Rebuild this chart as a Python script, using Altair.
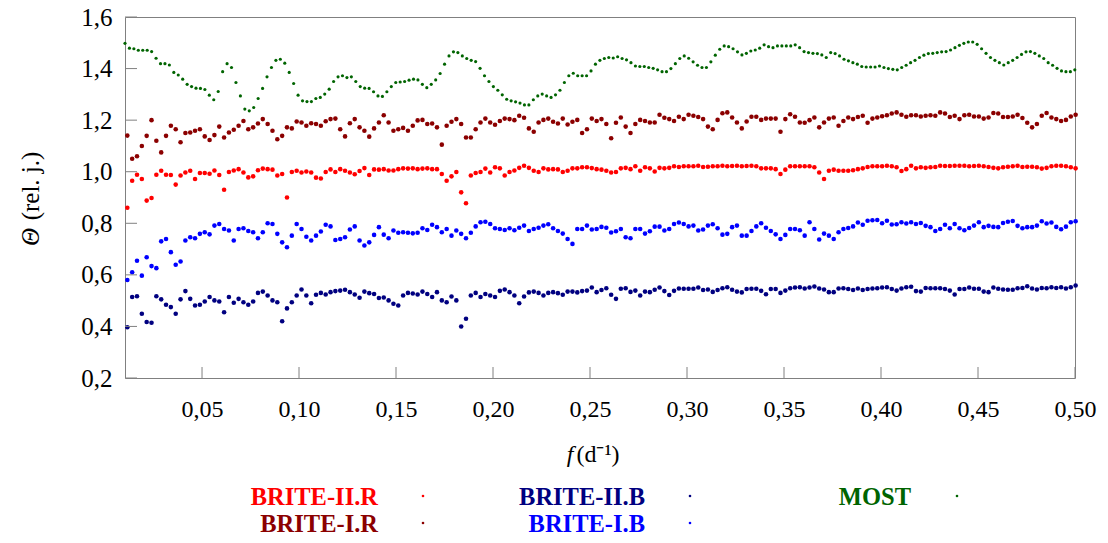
import altair as alt
import numpy as np
import pandas as pd

# ---------------- data ----------------
# BRITE series: sampled on a regular frequency grid f = BRITE_F0 + BRITE_DF*i
BRITE_F0 = 0.0115
BRITE_DF = 0.002494

brite_i_r = [
    1.14, 1.05, 1.06, 1.10, 1.139, 1.20, 1.12, 1.075, 1.139, 1.178, 1.165, 1.114, 1.15, 1.152, 1.159, 1.165,
    1.137, 1.123, 1.142, 1.175, 1.133, 1.152, 1.163, 1.178, 1.197, 1.165, 1.172, 1.187, 1.204, 1.185, 1.159, 1.126,
    1.139, 1.172, 1.168, 1.195, 1.191, 1.178, 1.188, 1.185, 1.178, 1.196, 1.204, 1.206, 1.165, 1.137, 1.188, 1.204,
    1.172, 1.159, 1.136, 1.168, 1.191, 1.219, 1.191, 1.159, 1.165, 1.170, 1.159, 1.178, 1.199, 1.201, 1.185, 1.187, 1.172,
    1.105, 1.178, 1.194, 1.204, 1.185, 1.133, 1.133, 1.165, 1.191, 1.206, 1.191, 1.182, 1.197, 1.206, 1.204, 1.200,
    1.217, 1.209, 1.168, 1.155, 1.191, 1.201, 1.206, 1.194, 1.187, 1.206, 1.183, 1.194, 1.201, 1.150, 1.165, 1.206,
    1.197, 1.204, 1.185, 1.13, 1.19, 1.210, 1.175, 1.150, 1.185, 1.201, 1.197, 1.191, 1.191, 1.221, 1.209, 1.204, 1.197,
    1.213, 1.204, 1.221, 1.217, 1.212, 1.204, 1.175, 1.165, 1.201, 1.227, 1.230, 1.210, 1.191, 1.168, 1.195, 1.213, 1.213,
    1.201, 1.206, 1.206, 1.206, 1.155, 1.204, 1.223, 1.213, 1.191, 1.190, 1.200, 1.210, 1.172, 1.191, 1.206, 1.210, 1.178,
    1.197, 1.210, 1.204, 1.212, 1.217, 1.190, 1.206, 1.210, 1.215, 1.219, 1.226, 1.230, 1.221, 1.213, 1.219, 1.219,
    1.214, 1.217, 1.219, 1.217, 1.230, 1.226, 1.212, 1.217, 1.204, 1.219, 1.221, 1.214, 1.214, 1.206, 1.210, 1.228, 1.226,
    1.212, 1.212, 1.214, 1.221, 1.208, 1.190, 1.172, 1.185, 1.217, 1.228, 1.210, 1.204, 1.197, 1.201, 1.214, 1.221,
]

brite_ii_r = [
    0.86, 0.965, 0.988, 0.972, 0.888, 0.898, 0.988, 1.004, 0.988, 0.987, 0.950, 0.985, 0.997, 1.004, 0.972, 0.995,
    0.995, 0.992, 1.005, 0.987, 0.93, 0.999, 1.005, 1.010, 0.997, 0.978, 0.982, 1.006, 1.012, 1.010, 1.008, 0.985,
    0.991, 0.90, 0.999, 1.004, 0.997, 1.001, 0.997, 0.977, 0.974, 0.999, 1.009, 0.999, 1.010, 1.004, 0.997, 0.990,
    1.003, 1.014, 0.987, 1.009, 1.008, 1.010, 1.005, 1.005, 1.010, 1.013, 1.012, 1.013, 1.010, 1.012, 1.013, 1.010, 1.010,
    0.991, 0.965, 0.982, 0.999, 0.920, 0.878, 0.985, 0.995, 0.999, 1.012, 0.997, 1.017, 1.013, 0.985, 0.999, 1.005,
    1.015, 1.023, 1.015, 1.004, 0.999, 1.013, 1.009, 1.010, 1.009, 0.999, 1.004, 1.013, 1.013, 1.017, 1.017, 1.014,
    1.010, 1.008, 1.004, 0.997, 0.999, 1.013, 1.015, 1.010, 1.021, 1.004, 1.017, 1.013, 1.001, 1.015, 1.013, 1.015, 1.021,
    1.018, 1.021, 1.021, 1.021, 1.023, 1.018, 1.019, 1.021, 1.021, 1.023, 1.021, 1.022, 1.023, 1.021, 1.022, 1.023, 1.021,
    1.013, 1.013, 1.013, 1.010, 0.991, 1.008, 1.021, 1.021, 1.021, 1.021, 1.021, 1.017, 0.997, 0.972, 1.004, 1.008, 1.004,
    1.004, 1.004, 1.006, 1.010, 1.013, 1.018, 1.021, 1.021, 1.021, 1.023, 1.021, 1.017, 1.003, 1.010, 1.023, 1.013,
    1.017, 1.015, 1.017, 1.018, 1.023, 1.022, 1.022, 1.023, 1.023, 1.023, 1.021, 1.022, 1.023, 1.021, 1.018, 1.015, 1.013,
    1.017, 1.019, 1.021, 1.023, 1.018, 1.019, 1.019, 1.017, 1.012, 1.015, 1.021, 1.023, 1.023, 1.021, 1.017, 1.013,
]

brite_i_b = [
    0.58, 0.610, 0.655, 0.597, 0.668, 0.634, 0.626, 0.730, 0.739, 0.688, 0.639, 0.652, 0.733, 0.746, 0.742, 0.759,
    0.765, 0.757, 0.791, 0.797, 0.778, 0.772, 0.733, 0.778, 0.781, 0.770, 0.765, 0.742, 0.765, 0.800, 0.797, 0.759,
    0.726, 0.707, 0.752, 0.797, 0.778, 0.748, 0.733, 0.752, 0.768, 0.794, 0.788, 0.735, 0.739, 0.746, 0.776, 0.788,
    0.733, 0.714, 0.726, 0.755, 0.785, 0.756, 0.742, 0.772, 0.763, 0.765, 0.763, 0.761, 0.763, 0.781, 0.774, 0.794, 0.785,
    0.765, 0.778, 0.752, 0.772, 0.759, 0.742, 0.763, 0.788, 0.804, 0.806, 0.797, 0.781, 0.778, 0.774, 0.781, 0.773,
    0.783, 0.791, 0.770, 0.778, 0.783, 0.791, 0.796, 0.781, 0.770, 0.760, 0.739, 0.72, 0.778, 0.778, 0.791, 0.776,
    0.778, 0.786, 0.783, 0.764, 0.769, 0.778, 0.746, 0.742, 0.778, 0.778, 0.760, 0.769, 0.787, 0.787, 0.772, 0.778, 0.797,
    0.803, 0.797, 0.788, 0.791, 0.772, 0.776, 0.791, 0.796, 0.781, 0.756, 0.759, 0.785, 0.791, 0.752, 0.752, 0.770, 0.788,
    0.800, 0.783, 0.770, 0.757, 0.739, 0.755, 0.778, 0.778, 0.773, 0.752, 0.804, 0.778, 0.737, 0.760, 0.752, 0.739, 0.765,
    0.778, 0.782, 0.788, 0.803, 0.794, 0.810, 0.812, 0.813, 0.800, 0.810, 0.795, 0.796, 0.804, 0.799, 0.804, 0.797,
    0.801, 0.790, 0.785, 0.770, 0.778, 0.794, 0.781, 0.797, 0.781, 0.773, 0.782, 0.791, 0.804, 0.785, 0.790, 0.786, 0.785,
    0.801, 0.806, 0.809, 0.790, 0.781, 0.785, 0.785, 0.791, 0.808, 0.799, 0.803, 0.786, 0.777, 0.787, 0.804, 0.808,
]

brite_ii_b = [
    0.397, 0.514, 0.517, 0.449, 0.417, 0.414, 0.517, 0.505, 0.484, 0.475, 0.449, 0.505, 0.537, 0.507, 0.481, 0.484,
    0.497, 0.514, 0.501, 0.497, 0.455, 0.514, 0.492, 0.507, 0.494, 0.484, 0.497, 0.530, 0.535, 0.520, 0.501, 0.494,
    0.42, 0.47, 0.494, 0.520, 0.543, 0.520, 0.490, 0.523, 0.530, 0.524, 0.533, 0.537, 0.539, 0.542, 0.533, 0.524,
    0.511, 0.535, 0.529, 0.526, 0.510, 0.512, 0.501, 0.488, 0.481, 0.520, 0.530, 0.528, 0.524, 0.535, 0.526, 0.514, 0.533,
    0.501, 0.494, 0.516, 0.501, 0.40, 0.43, 0.520, 0.530, 0.514, 0.526, 0.520, 0.514, 0.538, 0.543, 0.533, 0.520,
    0.490, 0.516, 0.532, 0.535, 0.530, 0.520, 0.530, 0.533, 0.529, 0.523, 0.535, 0.535, 0.532, 0.537, 0.539, 0.551,
    0.533, 0.541, 0.548, 0.523, 0.507, 0.546, 0.548, 0.534, 0.539, 0.520, 0.535, 0.533, 0.542, 0.551, 0.537, 0.522, 0.538,
    0.547, 0.546, 0.546, 0.546, 0.551, 0.541, 0.543, 0.534, 0.541, 0.548, 0.552, 0.542, 0.535, 0.532, 0.545, 0.546, 0.546,
    0.538, 0.525, 0.545, 0.545, 0.530, 0.539, 0.548, 0.551, 0.552, 0.547, 0.551, 0.555, 0.547, 0.543, 0.533, 0.533, 0.547,
    0.548, 0.545, 0.541, 0.547, 0.541, 0.545, 0.547, 0.548, 0.551, 0.552, 0.545, 0.539, 0.547, 0.552, 0.554, 0.537,
    0.535, 0.549, 0.548, 0.548, 0.548, 0.545, 0.539, 0.524, 0.545, 0.545, 0.551, 0.546, 0.546, 0.535, 0.533, 0.551, 0.546,
    0.543, 0.542, 0.542, 0.548, 0.549, 0.556, 0.547, 0.543, 0.549, 0.548, 0.552, 0.549, 0.552, 0.547, 0.552, 0.559,
]

# MOST: coarser regular sampling from f = MOST_F_FIRST to f = MOST_F_LAST
MOST_F_FIRST = 0.0103
MOST_F_LAST = 0.4999
most = [
    1.498, 1.479, 1.477, 1.471, 1.471, 1.471, 1.466, 1.440, 1.419, 1.419, 1.414, 1.385, 1.375, 1.359, 1.339, 1.330,
    1.324, 1.323, 1.319, 1.297, 1.279, 1.311, 1.388, 1.419, 1.404, 1.346, 1.294, 1.243, 1.236, 1.249, 1.284, 1.323,
    1.368, 1.404, 1.432, 1.436,
    1.421, 1.385, 1.342, 1.297, 1.275, 1.272, 1.272, 1.284, 1.288, 1.301, 1.320, 1.350, 1.368, 1.372, 1.365, 1.368,
    1.350, 1.330, 1.324, 1.323, 1.310, 1.294, 1.292, 1.310, 1.330, 1.346, 1.348, 1.350, 1.355, 1.359, 1.356, 1.339,
    1.326, 1.339, 1.356,
    1.381, 1.417, 1.449, 1.465, 1.462, 1.449, 1.439, 1.432, 1.427, 1.401, 1.372, 1.350, 1.330, 1.316, 1.298, 1.281,
    1.275, 1.271, 1.266, 1.259, 1.259, 1.279, 1.294, 1.301, 1.294, 1.288, 1.298, 1.316, 1.346, 1.372, 1.382, 1.372,
    1.372, 1.372,
    1.391, 1.417, 1.432, 1.439, 1.443, 1.441, 1.446, 1.439, 1.434, 1.423, 1.410, 1.408, 1.408, 1.404, 1.401, 1.395,
    1.388, 1.388, 1.400, 1.419, 1.439, 1.449, 1.440, 1.426, 1.413, 1.404, 1.404, 1.426, 1.452, 1.475, 1.488, 1.485,
    1.477, 1.465, 1.453, 1.459, 1.468,
    1.472, 1.479, 1.492, 1.485, 1.481, 1.488, 1.488, 1.488, 1.488, 1.492, 1.481, 1.466, 1.462, 1.459, 1.458, 1.453,
    1.443, 1.462, 1.458, 1.449, 1.436, 1.430, 1.423, 1.417, 1.408, 1.406, 1.406, 1.406, 1.410, 1.404, 1.400, 1.397,
    1.395, 1.404, 1.413, 1.423,
    1.432, 1.443, 1.452, 1.458, 1.459, 1.462, 1.465, 1.466, 1.472, 1.481, 1.490, 1.498, 1.503, 1.503, 1.494, 1.477,
    1.459, 1.443, 1.432, 1.423, 1.414, 1.423, 1.432, 1.443, 1.455, 1.465, 1.466, 1.459, 1.449, 1.439, 1.423, 1.413,
    1.401, 1.391, 1.388, 1.388, 1.395,
]

series_names = ["BRITE-II.R", "BRITE-I.R", "BRITE-II.B", "BRITE-I.B", "MOST"]
series_colors = ["#ff0000", "#8b0000", "#000080", "#0000ff", "#006400"]

x_tick_values = [0.05, 0.10, 0.15, 0.20, 0.25, 0.30, 0.35, 0.40, 0.45, 0.50]
y_tick_values = [0.2, 0.4, 0.6, 0.8, 1.0, 1.2, 1.4, 1.6]

# ---------------- build table ----------------
frames = []
for name, vals in [("BRITE-II.R", brite_ii_r), ("BRITE-I.R", brite_i_r),
                   ("BRITE-II.B", brite_ii_b), ("BRITE-I.B", brite_i_b)]:
    f = np.round(BRITE_F0 + BRITE_DF * np.arange(len(vals)), 6)
    frames.append(pd.DataFrame({"f": f, "theta": vals, "series": name, "kind": "brite"}))
f_most = np.round(np.linspace(MOST_F_FIRST, MOST_F_LAST, len(most)), 6)
frames.append(pd.DataFrame({"f": f_most, "theta": most, "series": "MOST", "kind": "most"}))
df = pd.concat(frames, ignore_index=True)

# ---------------- layout ----------------
W, H = 950, 361
PAD_L, PAD_T = 125, 17
GRAY = "#808080"
SERIF = "Liberation Serif"

xscale = alt.Scale(domain=[0.0103, 0.5], nice=False, zero=False)
yscale = alt.Scale(domain=[0.2, 1.6], nice=False, zero=False)
cscale = alt.Scale(domain=series_names, range=series_colors)

x_axis = alt.Axis(values=x_tick_values, labelExpr="replace(format(datum.value, '.2f'), '.', ',')",
                  ticks=False, grid=False, domain=False, title=None, labelFont=SERIF,
                  labelFontSize=24, labelColor="black", labelPadding=31, labelBaseline="middle",
                  labelFlush=False, labelOverlap=False)
y_axis = alt.Axis(values=y_tick_values, labelExpr="replace(format(datum.value, '.1f'), '.', ',')",
                  ticks=False, grid=False, domain=False, title=None, labelFont=SERIF,
                  labelFontSize=25, labelColor="black", labelPadding=13, labelFlush=False,
                  labelOverlap=False)

pts_brite = alt.Chart(df[df.kind == "brite"]).mark_circle(size=21, opacity=1).encode(
    x=alt.X("f:Q", scale=xscale, axis=x_axis),
    y=alt.Y("theta:Q", scale=yscale, axis=y_axis),
    color=alt.Color("series:N", scale=cscale, legend=None),
)
pts_most = alt.Chart(df[df.kind == "most"]).mark_circle(size=10, opacity=1).encode(
    x=alt.X("f:Q", scale=xscale, axis=x_axis),
    y=alt.Y("theta:Q", scale=yscale, axis=y_axis),
    color=alt.Color("series:N", scale=cscale, legend=None),
)

# inward tick marks
xt = alt.Chart(pd.DataFrame({"f": x_tick_values})).mark_rule(color=GRAY, strokeWidth=1).encode(
    x=alt.X("f:Q", scale=xscale, axis=x_axis), y=alt.value(H), y2=alt.value(H - 11))
yt = alt.Chart(pd.DataFrame({"theta": y_tick_values})).mark_rule(color=GRAY, strokeWidth=1).encode(
    y=alt.Y("theta:Q", scale=yscale, axis=y_axis), x=alt.value(0), x2=alt.value(12))

layers = [pts_brite, pts_most, xt, yt]

def txt(s, x, y, size, style="normal", weight="normal", color="black", angle=0, align="center"):
    return alt.Chart(pd.DataFrame({"t": [s]})).mark_text(
        font=SERIF, fontSize=size, fontStyle=style, fontWeight=weight, color=color,
        angle=angle, align=align, baseline="middle").encode(
        text="t:N", x=alt.value(x - PAD_L), y=alt.value(y - PAD_T))

# axis titles
layers += [
    txt("\u0398", 31, 237, 25, style="italic", angle=270),
    txt("(rel. j.)", 31, 186, 25, angle=270),
    txt("f", 570, 455, 24, style="italic"),
    txt("(d\u207b\u00b9)", 598, 455, 24),
]

# legend: label right-aligned, a single marker dot to its right
legend_layout = [
    ("BRITE-II.R", 378, 498, 423),
    ("BRITE-I.R", 378, 525, 423),
    ("BRITE-II.B", 645, 498, 690),
    ("BRITE-I.B", 645, 525, 690),
    ("MOST", 911, 498, 957),
]
for name, xr, yc, xm in legend_layout:
    col = series_colors[series_names.index(name)]
    layers.append(txt(name, xr, yc, 24.5, weight="bold", color=col, align="right"))
    layers.append(alt.Chart(pd.DataFrame({"s": [name]})).mark_circle(size=7, opacity=1, color=col).encode(
        x=alt.value(xm - PAD_L), y=alt.value(yc - 2 - PAD_T)))

chart = alt.layer(*layers).properties(
    width=W, height=H,
    autosize=alt.AutoSizeParams(type="none"),
    padding={"left": PAD_L, "top": PAD_T, "right": 1108 - PAD_L - W, "bottom": 543 - PAD_T - H},
    background="white",
).configure_view(stroke=GRAY, strokeWidth=1)

chart.save("out.html", embed_options={"renderer": "svg", "actions": False})
